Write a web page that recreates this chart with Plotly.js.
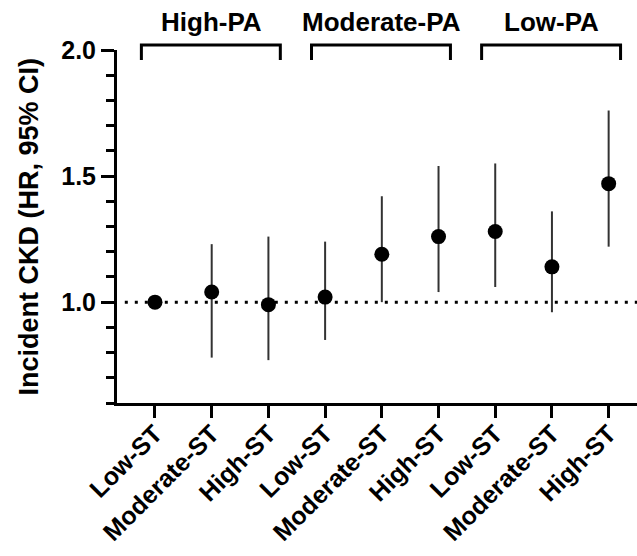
<!DOCTYPE html>
<html>
<head>
<meta charset="utf-8">
<script src="https://cdn.plot.ly/plotly-3.0.1.min.js"></script>
<style>html,body{margin:0;padding:0;background:#fff;}#chart{width:637px;height:556px;}</style>
</head>
<body>
<div id="chart"></div>
<script>
// Data
const stLabels = ["Low-ST", "Moderate-ST", "High-ST", "Low-ST", "Moderate-ST", "High-ST", "Low-ST", "Moderate-ST", "High-ST"];
const paGroups = ["High-PA", "Moderate-PA", "Low-PA"];
const hr    = [1.00, 1.04, 0.99, 1.02, 1.19, 1.26, 1.28, 1.14, 1.47];
const ciLow = [1.00, 0.78, 0.77, 0.85, 1.00, 1.04, 1.06, 0.96, 1.22];
const ciHigh= [1.00, 1.23, 1.26, 1.24, 1.42, 1.54, 1.55, 1.36, 1.76];
const yTickVals = [1.0, 1.5, 2.0];
const yTickText = ["1.0", "1.5", "2.0"];
const yTitle = "Incident CKD (HR, 95% CI)";

const xIdx = stLabels.map((_, i) => i);
const FONT = "Liberation Sans, Arial, Helvetica, sans-serif";

const trace = {
  type: "scatter",
  mode: "markers",
  x: xIdx,
  y: hr,
  marker: {color: "#000", size: 15, line: {width: 0}},
  error_y: {
    type: "data",
    symmetric: false,
    array: hr.map((v, i) => ciHigh[i] - v),
    arrayminus: hr.map((v, i) => v - ciLow[i]),
    width: 0,
    thickness: 2,
    color: "#333"
  },
  cliponaxis: false,
  hoverinfo: "skip"
};

const shapes = [{
  type: "line", xref: "paper", yref: "y",
  x0: 0.015, x1: 1, y0: 1, y1: 1,
  line: {color: "#000", width: 3, dash: "3px,7px"},
  layer: "below"
}];
const annotations = [{
  xref: "paper", yref: "paper", x: -0.171, y: 0.5,
  text: yTitle, showarrow: false, textangle: -90,
  xanchor: "center", yanchor: "middle",
  font: {family: FONT, size: 27, color: "#000", weight: "bold"}
}];
paGroups.forEach((g, k) => {
  const a = 3 * k - 0.24, b = 3 * k + 2.21;
  shapes.push({
    type: "path", xref: "x", yref: "paper",
    path: `M ${a},0.972 L ${a},1.014 L ${b},1.014 L ${b},0.972`,
    line: {color: "#000", width: 3}
  });
  annotations.push({
    xref: "x", yref: "paper", x: 3 * k + 1, y: 1.078,
    text: g, showarrow: false, xanchor: "center", yanchor: "middle",
    font: {family: FONT, size: 26, color: "#000", weight: "bold"}
  });
});

const layout = {
  width: 637, height: 556,
  margin: {l: 117, r: 0, t: 50, b: 153},
  paper_bgcolor: "#fff", plot_bgcolor: "#fff",
  showlegend: false,
  font: {family: FONT, color: "#000"},
  xaxis: {
    range: [-0.67, 8.5],
    tickmode: "array", tickvals: xIdx, ticktext: stLabels,
    tickangle: -45,
    tickfont: {family: FONT, size: 25, color: "#000", weight: "bold"},
    ticklabelstandoff: -9,
    ticks: "outside", ticklen: 12, tickwidth: 3, tickcolor: "#000",
    showline: true, linewidth: 3, linecolor: "#000",
    showgrid: false, zeroline: false, fixedrange: true
  },
  yaxis: {
    range: [0.6, 2.0],
    tickmode: "array", tickvals: yTickVals, ticktext: yTickText,
    tickfont: {family: FONT, size: 25, color: "#000", weight: "bold"},
    ticks: "outside", ticklen: 13, tickwidth: 3, tickcolor: "#000",
    minor: {dtick: 0.1, tick0: 0, ticks: "outside", ticklen: 8, tickwidth: 3, tickcolor: "#000", showgrid: false},
    showline: true, linewidth: 3, linecolor: "#000",
    showgrid: false, zeroline: false, fixedrange: true
  },
  shapes: shapes,
  annotations: annotations
};

Plotly.newPlot("chart", [trace], layout, {displayModeBar: false, staticPlot: true});
</script>
</body>
</html>
